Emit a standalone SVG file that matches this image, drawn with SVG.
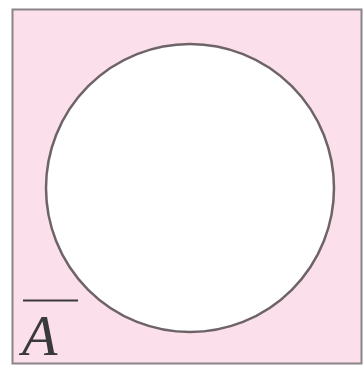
<svg xmlns="http://www.w3.org/2000/svg" width="364" height="367" viewBox="0 0 364 367">
<style>
.frame{fill:#fbe0ec;stroke:#8a8488;stroke-width:2}
.set{fill:#ffffff;stroke:#6e6468;stroke-width:2.5}
.lbl{font-family:"Liberation Serif",serif;font-style:italic;font-size:58px;fill:#3a3a3a}
</style>
<g id="universe"><rect class="frame" x="12.5" y="9.5" width="349" height="354"/></g>
<g id="setA"><circle class="set" cx="190" cy="188" r="144"/></g>
<g id="label"><line x1="23" y1="300.5" x2="78" y2="300.5" stroke="#3a3a3a" stroke-width="2"/><text class="lbl" x="22" y="355">A</text></g>
</svg>
